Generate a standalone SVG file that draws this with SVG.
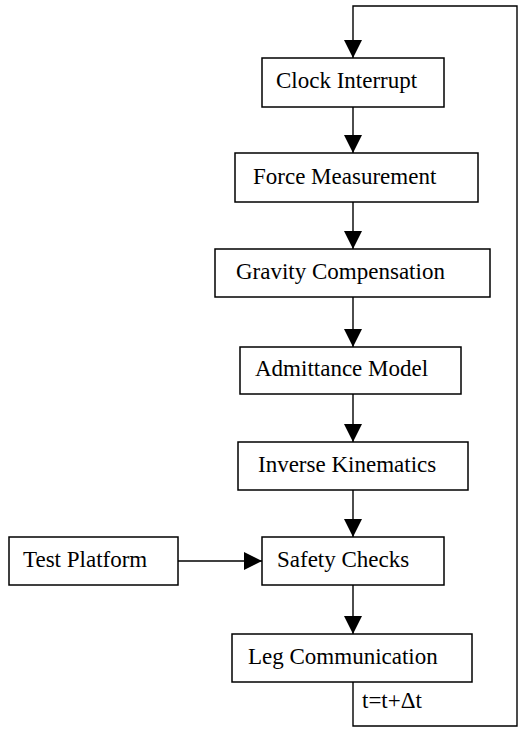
<svg xmlns="http://www.w3.org/2000/svg" width="518" height="729" viewBox="0 0 518 729">
  <style>
    .box { fill: #ffffff; stroke: #000000; stroke-width: 1.5; }
    .lbl { font-family: "Liberation Serif", "Times New Roman", serif; font-size: 23px; fill: #000000; }
    .conn { fill: none; stroke: #000000; stroke-width: 1.4; }
  </style>
  <defs>
    <marker id="arrow" markerUnits="userSpaceOnUse" markerWidth="18" markerHeight="18" refX="18" refY="9" orient="auto">
      <path d="M0,0 L18,9 L0,18 z" fill="#000000"/>
    </marker>
  </defs>
  <rect width="518" height="729" fill="#ffffff"/>
  <g id="connectors">
    <path class="conn" d="M353,682 L353,726 L517,726 L517,6 L353,6 L353,58" marker-end="url(#arrow)"/>
    <line class="conn" x1="353" y1="107" x2="353" y2="153" marker-end="url(#arrow)"/>
    <line class="conn" x1="353" y1="202" x2="353" y2="249" marker-end="url(#arrow)"/>
    <line class="conn" x1="353" y1="297" x2="353" y2="347" marker-end="url(#arrow)"/>
    <line class="conn" x1="353" y1="394" x2="353" y2="442" marker-end="url(#arrow)"/>
    <line class="conn" x1="353" y1="490" x2="353" y2="537" marker-end="url(#arrow)"/>
    <line class="conn" x1="353" y1="585" x2="353" y2="634" marker-end="url(#arrow)"/>
    <line class="conn" x1="178" y1="561" x2="262" y2="561" marker-end="url(#arrow)"/>
    <text class="lbl" x="362" y="708">t=t+Δt</text>
  </g>
  <g id="clock-interrupt">
    <rect class="box" x="262" y="58" width="182" height="49"/>
    <text class="lbl" x="276" y="88">Clock Interrupt</text>
  </g>
  <g id="force-measurement">
    <rect class="box" x="235" y="153" width="243" height="49"/>
    <text class="lbl" x="253" y="184">Force Measurement</text>
  </g>
  <g id="gravity-compensation">
    <rect class="box" x="215" y="249" width="275" height="48"/>
    <text class="lbl" x="236" y="279">Gravity Compensation</text>
  </g>
  <g id="admittance-model">
    <rect class="box" x="240" y="347" width="221" height="47"/>
    <text class="lbl" x="255" y="376">Admittance Model</text>
  </g>
  <g id="inverse-kinematics">
    <rect class="box" x="238" y="442" width="230" height="48"/>
    <text class="lbl" x="258" y="472">Inverse Kinematics</text>
  </g>
  <g id="test-platform">
    <rect class="box" x="9" y="537" width="169" height="48"/>
    <text class="lbl" x="23" y="567">Test Platform</text>
  </g>
  <g id="safety-checks">
    <rect class="box" x="262" y="537" width="182" height="48"/>
    <text class="lbl" x="277" y="567">Safety Checks</text>
  </g>
  <g id="leg-communication">
    <rect class="box" x="232" y="634" width="240" height="48"/>
    <text class="lbl" x="248" y="664">Leg Communication</text>
  </g>
</svg>
